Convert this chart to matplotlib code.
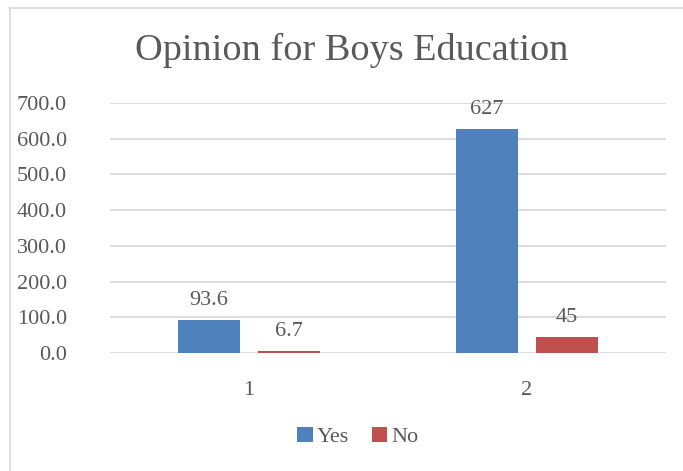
import matplotlib
matplotlib.use("Agg")
import matplotlib.pyplot as plt
from matplotlib.lines import Line2D
import numpy as np

title = "Opinion for Boys Education"
categories = ["1", "2"]
series_names = ["Yes", "No"]
yes_values = [93.6, 627]
no_values = [6.7, 45]
yes_labels = ["93.6", "627"]
no_labels = ["6.7", "45"]
y_ticks = [0, 100, 200, 300, 400, 500, 600, 700]

plt.rcParams['font.family'] = ['Liberation Serif', 'DejaVu Serif']
text_color = "#595959"
blue = "#4F81BD"
red = "#C0504D"

fig = plt.figure(figsize=(6.83, 4.71), dpi=100)
ax = fig.add_axes([110/683, 1-353/471, (666-110)/683, (353-103)/471])

x = np.arange(len(categories))
w = 0.223
off = 0.144
b1 = ax.bar(x - off, yes_values, w, color=blue, label=series_names[0], zorder=3)
b2 = ax.bar(x + off, no_values, w, color=red, label=series_names[1], zorder=3)

for bars, labs in ((b1, yes_labels), (b2, no_labels)):
    for rect, lab in zip(bars, labs):
        ax.annotate(lab, (rect.get_x() + rect.get_width()/2, rect.get_height()),
                    xytext=(0, 7), textcoords="offset points", ha="center", va="bottom",
                    fontsize=16, color=text_color)

ax.set_xlim(-0.5, 1.5)
ax.set_ylim(0, 700)
ax.set_yticks(y_ticks)
ax.set_yticklabels([f"{v:.1f}" for v in y_ticks])
ax.set_xticks(x)
ax.set_xticklabels(categories)
ax.tick_params(axis="both", length=0, labelsize=16, labelcolor=text_color)
ax.tick_params(axis="y", pad=31)
ax.tick_params(axis="x", pad=20)
ax.grid(axis="y", color="#D9D9D9", linewidth=1.3, zorder=0)
for s in ax.spines.values():
    s.set_visible(False)

fig.text(352/683, 1-50/471, title, ha="center", va="center", fontsize=27.5, color=text_color)

leg = fig.legend(handles=[b1, b2], loc="center", bbox_to_anchor=(358/683, 1-437/471),
                 ncol=2, frameon=False, fontsize=16, handlelength=0.7, handleheight=0.7,
                 handletextpad=0.2, columnspacing=1.0, labelcolor=text_color)

fig.add_artist(Line2D([10/683, 10/683], [0, 1-8/471], transform=fig.transFigure, color="#D9D9D9", lw=1.2))
fig.add_artist(Line2D([10/683, 1], [1-8/471, 1-8/471], transform=fig.transFigure, color="#D9D9D9", lw=1.2))

fig.savefig("out.png", dpi=100)
